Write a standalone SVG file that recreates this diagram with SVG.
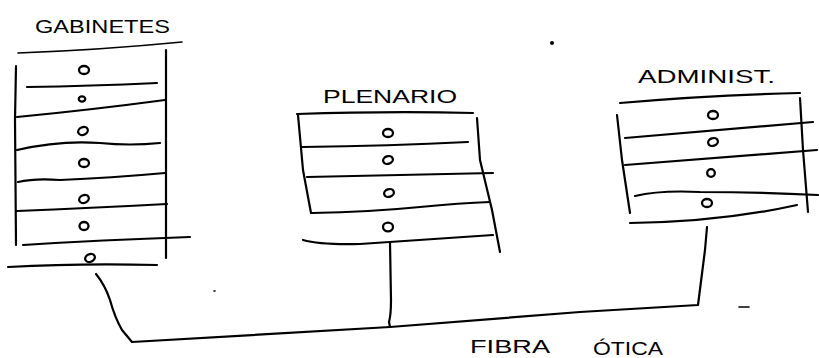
<svg xmlns="http://www.w3.org/2000/svg" width="819" height="358" viewBox="0 0 819 358">
<style>
.ln{fill:none;stroke:#000;stroke-width:2.2;stroke-linecap:round;stroke-linejoin:round}
.th{fill:none;stroke:#000;stroke-width:1.6;stroke-linecap:round}
.o{fill:none;stroke:#000;stroke-width:2.3}
.t{font-family:"Liberation Sans","DejaVu Sans",sans-serif;fill:#000}
.sp{fill:#000}
</style>
<rect width="819" height="358" fill="#fff"/>
<g id="gabinetes">
<text class="t" x="35" y="33" font-size="18" textLength="135" lengthAdjust="spacingAndGlyphs">GABINETES</text>
<path class="th" d="M18,53 Q100,50 182,42"/>
<path class="ln" d="M16,66 L15,120 L16,245"/>
<path class="ln" d="M166,50 L166,150 L166,258"/>
<path class="ln" d="M27,87 Q90,86 157,83"/>
<path class="ln" d="M17,117 Q90,110 165,100"/>
<path class="ln" d="M17,150 Q60,140 100,143 Q130,146 160,143"/>
<path class="ln" d="M18,182 Q35,178 60,180 Q110,178 165,173"/>
<path class="ln" d="M17,211 Q90,208 167,204"/>
<path class="ln" d="M23,245 Q100,240 190,237"/>
<path class="ln" d="M8,267 Q80,263 157,265"/>
<ellipse class="o" cx="84" cy="70" rx="5" ry="4"/>
<ellipse class="o" cx="82" cy="99" rx="3.2" ry="2.6"/>
<ellipse class="o" cx="83" cy="131" rx="5" ry="3.8" transform="rotate(-25 83 131)"/>
<ellipse class="o" cx="84" cy="163" rx="5" ry="4"/>
<ellipse class="o" cx="84" cy="199" rx="5" ry="3.8" transform="rotate(-25 84 199)"/>
<ellipse class="o" cx="84" cy="226" rx="4.5" ry="4"/>
<ellipse class="o" cx="90" cy="258" rx="5" ry="3.8" transform="rotate(-25 90 258)"/>
</g>
<g id="plenario">
<text class="t" x="323" y="103" font-size="19" textLength="134" lengthAdjust="spacingAndGlyphs">PLENARIO</text>
<path class="ln" d="M297,114 Q390,111 473,113"/>
<path class="ln" d="M298,115 L303,170 L311,213"/>
<path class="ln" d="M477,118 L480,160 L492,210 L500,252"/>
<path class="ln" d="M302,147 Q390,146 468,142"/>
<path class="ln" d="M307,177 Q400,175 493,173"/>
<path class="ln" d="M312,213 Q370,212 420,207 Q460,203 490,202"/>
<path class="ln" d="M303,240 Q320,245 360,244 Q420,240 493,235"/>
<ellipse class="o" cx="388" cy="133" rx="5" ry="4"/>
<ellipse class="o" cx="388" cy="160" rx="5" ry="3.8" transform="rotate(-20 388 160)"/>
<ellipse class="o" cx="389" cy="193" rx="5" ry="3.8" transform="rotate(-20 389 193)"/>
<ellipse class="o" cx="388" cy="227" rx="5" ry="4.3"/>
</g>
<g id="adminst">
<text class="t" x="638" y="83" font-size="19" textLength="137" lengthAdjust="spacingAndGlyphs">ADMINIST.</text>
<path class="ln" d="M620,103 Q710,95 800,93"/>
<path class="ln" d="M617,115 L622,160 L630,213"/>
<path class="ln" d="M800,98 L803,150 L808,212"/>
<path class="ln" d="M625,138 Q720,130 813,122"/>
<path class="ln" d="M625,165 Q720,158 817,150"/>
<path class="ln" d="M635,196 Q660,190 700,192 Q760,192 818,195"/>
<path class="ln" d="M630,223 Q720,222 797,205"/>
<ellipse class="o" cx="713" cy="115" rx="5" ry="4"/>
<ellipse class="o" cx="713" cy="142" rx="5" ry="3.8" transform="rotate(-20 713 142)"/>
<ellipse class="o" cx="711" cy="173" rx="3.8" ry="3.8"/>
<ellipse class="o" cx="707" cy="203" rx="5" ry="4"/>
</g>
<g id="connectors">
<path class="ln" d="M96,274 Q105,285 110,300 Q115,318 122,330 L132,342 L390,327 L580,312 L698,305 L705,250 L707,227"/>
<path class="ln" d="M390,242 L391,300 Q391,315 389,322 L390,327"/>
</g>
<g id="label">
<text class="t" x="470" y="353" font-size="19" textLength="80" lengthAdjust="spacingAndGlyphs">FIBRA</text>
<text class="t" x="593" y="355" font-size="19" textLength="70" lengthAdjust="spacingAndGlyphs">ÓTICA</text>
</g>
<g id="specks">
<circle class="sp" cx="552" cy="43" r="2"/>
<path class="th" d="M739,307 L749,307"/>
<path class="th" d="M214,291 L215,291"/>
</g>
</svg>
